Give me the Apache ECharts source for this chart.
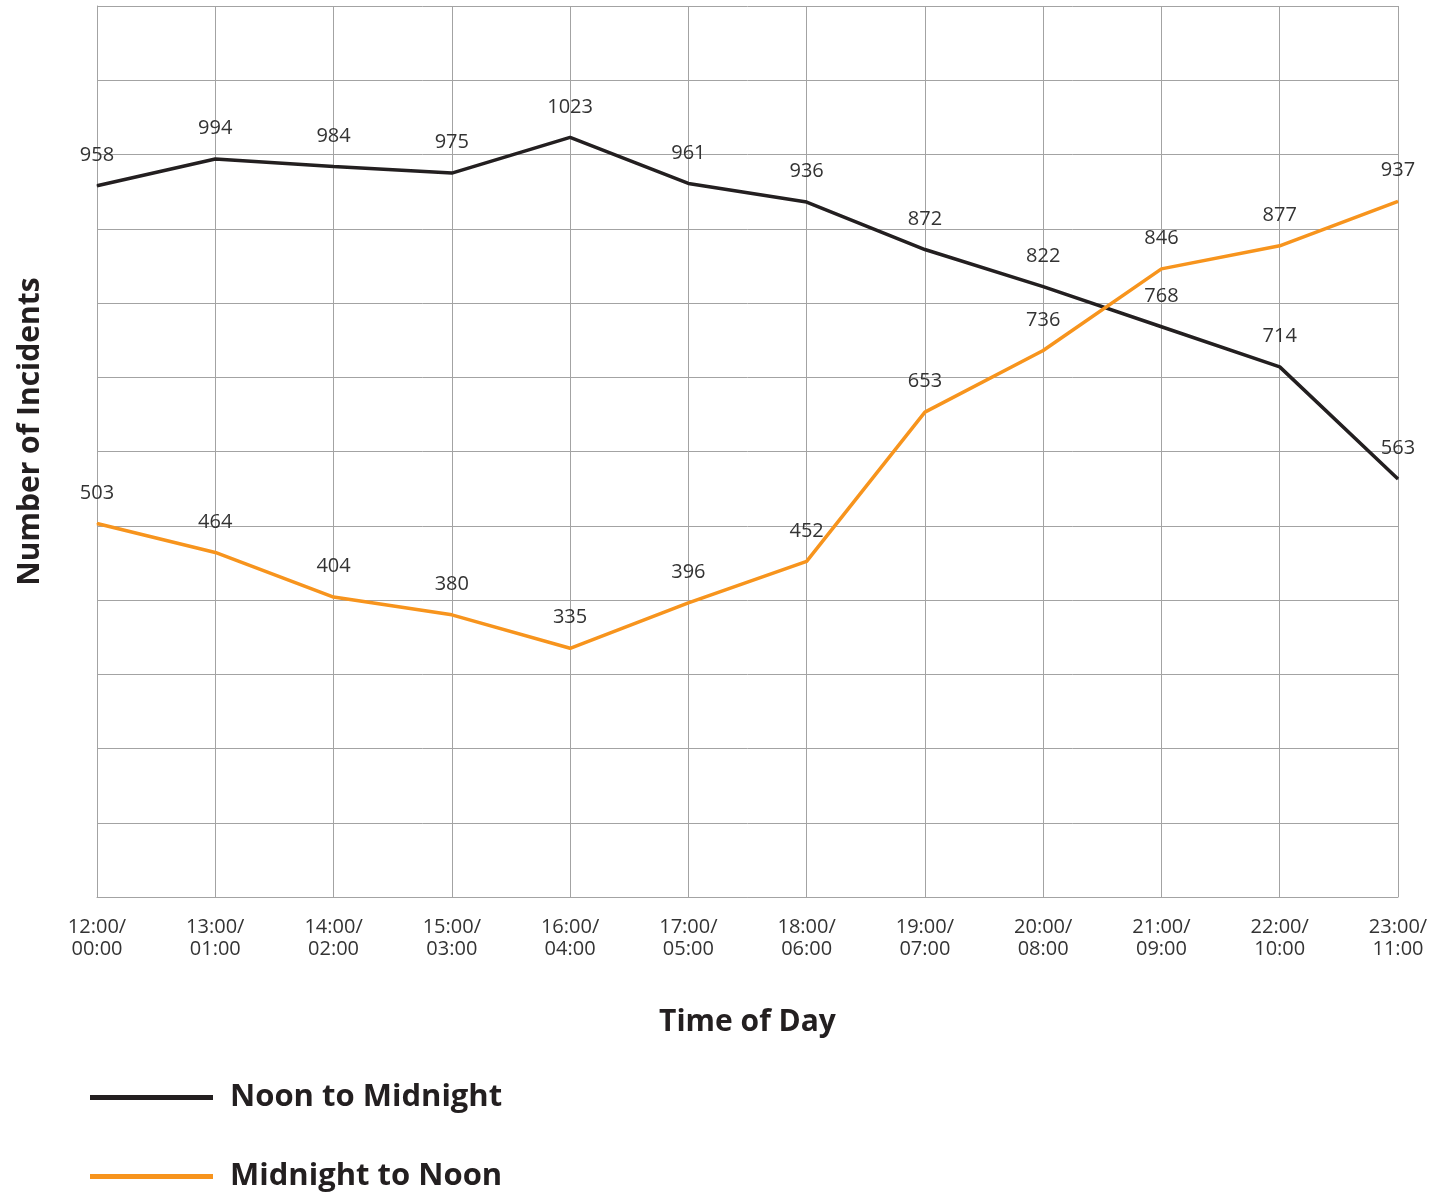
<!DOCTYPE html>
<html>
<head>
<meta charset="utf-8">
<script src="https://cdn.jsdelivr.net/npm/echarts@6/dist/echarts.min.js"></script>
<style>
  html, body { margin: 0; padding: 0; background: #fff; }
  #chart { width: 1454px; height: 1197px; }
</style>
</head>
<body>
<div id="chart"></div>
<script>
const times = ['12:00/\n00:00', '13:00/\n01:00', '14:00/\n02:00', '15:00/\n03:00', '16:00/\n04:00', '17:00/\n05:00',
  '18:00/\n06:00', '19:00/\n07:00', '20:00/\n08:00', '21:00/\n09:00', '22:00/\n10:00', '23:00/\n11:00']
const noonToMidnight = [958, 994, 984, 975, 1023, 961, 936, 872, 822, 768, 714, 563]
const midnightToNoon = [503, 464, 404, 380, 335, 396, 452, 653, 736, 846, 877, 937]

const font = '"Open Sans", Lato, sans-serif'
const gridColor = '#a3a3a3'

const chart = echarts.init(document.getElementById('chart'))

function lineSeries(name, data, color) {
  return {
    name,
    type: 'line',
    data,
    symbol: 'circle',
    symbolSize: 1,
    lineStyle: { color, width: 3.5 },
    itemStyle: { color },
    label: { show: true, position: 'top', distance: 20, fontSize: 20, color: '#333', fontFamily: font }
  }
}

chart.setOption({
  animation: false,
  grid: { left: 97, right: 56, top: 6, bottom: 300 },
  xAxis: {
    type: 'category',
    data: times,
    boundaryGap: false,
    name: 'Time of Day',
    nameLocation: 'middle',
    nameGap: 110,
    nameTextStyle: { fontSize: 30, fontWeight: 'bold', color: '#231f20', fontFamily: font },
    axisLine: { lineStyle: { color: gridColor } },
    axisTick: { show: false },
    axisLabel: { margin: 19, fontSize: 20, lineHeight: 22, color: '#333', fontFamily: font },
    splitLine: { show: true, lineStyle: { color: gridColor, width: 1 } }
  },
  yAxis: {
    type: 'value',
    min: 0,
    max: 1200,
    interval: 100,
    name: 'Number of Incidents',
    nameLocation: 'middle',
    nameGap: 52,
    nameTextStyle: { fontSize: 30, fontWeight: 'bold', color: '#231f20', fontFamily: font, padding: [0, 0, 0, 40] },
    axisLine: { show: true, lineStyle: { color: gridColor } },
    axisTick: { show: false },
    axisLabel: { show: false },
    splitLine: { show: true, lineStyle: { color: gridColor, width: 1 } }
  },
  legend: {
    orient: 'vertical',
    left: 85,
    top: 1077,
    itemWidth: 123,
    itemHeight: 5,
    itemGap: 48,
    icon: 'rect',
    textStyle: { fontSize: 31, fontWeight: 'bold', color: '#231f20', fontFamily: font, padding: [0, 0, 0, 12] },
    data: ['Noon to Midnight', 'Midnight to Noon']
  },
  series: [
    lineSeries('Noon to Midnight', noonToMidnight, '#231f20'),
    lineSeries('Midnight to Noon', midnightToNoon, '#f7941d')
  ]
})
</script>
</body>
</html>
